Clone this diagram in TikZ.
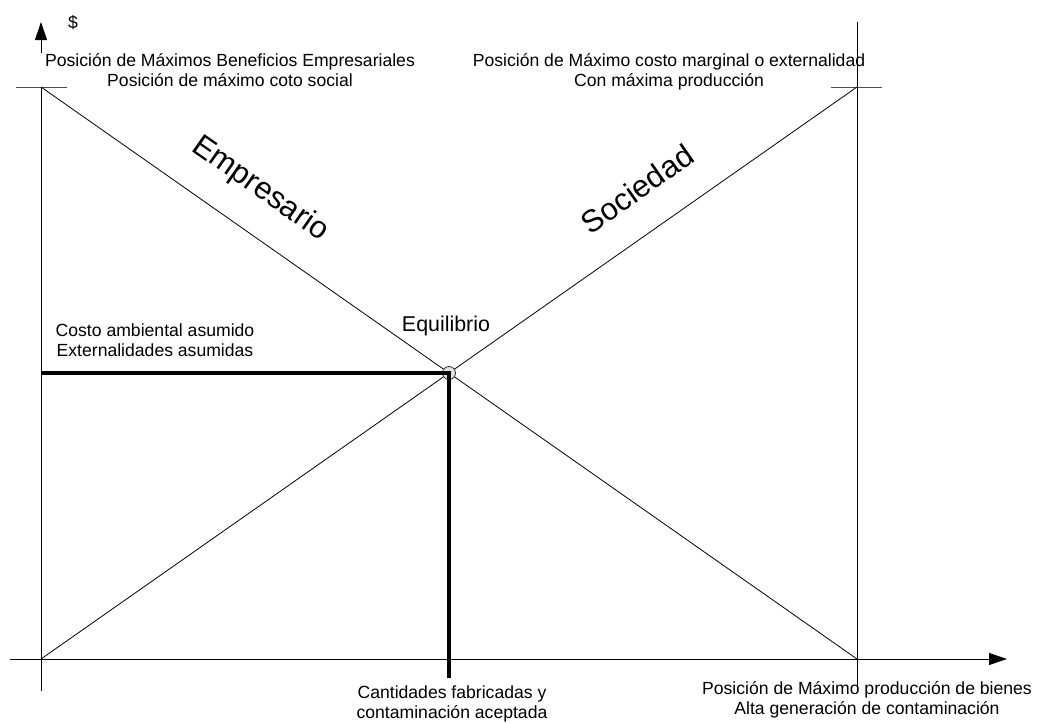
\documentclass[tikz,border=0pt]{standalone}
\usepackage{fontspec}
\setmainfont{Liberation Sans}
\usetikzlibrary{arrows.meta,calc}
\definecolor{eqfill}{RGB}{221,225,236}
\tikzset{
  axis/.style={line width=0.9pt,-{Triangle[length=18pt,width=12pt]}},
  guide/.style={line width=0.9pt},
  diag/.style={line width=0.8pt},
  tickln/.style={line width=0.9pt,black!70},
  heavy/.style={line width=4pt},
  lbl/.style={font=\fontsize{17.6}{20.5}\selectfont,align=center,inner sep=0pt},
  eqlbl/.style={font=\fontsize{21.4}{25}\selectfont,inner sep=0pt},
  big/.style={font=\fontsize{31}{36}\selectfont,inner sep=0pt},
  eqpt/.style={circle,draw=black!80,fill=eqfill,line width=0.8pt,minimum size=13pt,inner sep=0pt}
}
\begin{document}
\begin{tikzpicture}[x=1pt,y=-1pt]
  \useasboundingbox (0,0) rectangle (1037,723);
  \coordinate (o) at (41,659); \coordinate (ytip) at (41,22); \coordinate (ybot) at (41,691);
  \coordinate (xbeg) at (10,659); \coordinate (xtip) at (1007,659);
  \coordinate (rtop) at (857,22); \coordinate (rbot) at (857,691);
  \coordinate (a) at (41,87); \coordinate (b) at (857,87); \coordinate (c) at (857,659);
  \draw[axis] (ybot) -- (ytip); \draw[axis] (xbeg) -- (xtip); \draw[guide] (rbot) -- (rtop);
  \node[lbl,fill=white,inner xsep=6pt] (maxben) at (230,70) {Posición de Máximos Beneficios Empresariales\\Posición de máximo coto social};
  \node[lbl] (maxcost) at (669,72) {Posición de Máximo costo marginal o externalidad\\Con máxima producción};
  \draw[tickln] ([xshift=-25pt]a) -- ([xshift=26pt]a); \draw[tickln] ([xshift=-26pt]b) -- ([xshift=25pt]b);
  \draw[diag] (a) -- (c); \draw[diag] (o) -- (b);
  \node[eqpt] (eq) at ($(a)!0.5!(c)$) {};
  \coordinate (costo) at (o |- eq); \coordinate (cant) at ($(eq |- o)+(0,19)$);
  \draw[heavy] (costo) -- (eq.center) -- (cant);
  \node[lbl] (dolar) at (73,23) {\$};
  \node[big,rotate=-35] (emp) at (260,189) {Empresario};
  \node[big,rotate=35] (soc) at (637,189) {Sociedad};
  \node[eqlbl] (equi) at (446,326) {Equilibrio};
  \node[lbl] (costamb) at (155,340) {Costo ambiental asumido\\Externalidades asumidas};
  \node[lbl] (cantfab) at (452,704) {Cantidades fabricadas y\\contaminación aceptada};
  \node[lbl] (maxprod) at (867,700) {Posición de Máximo producción de bienes\\Alta generación de contaminación};
\end{tikzpicture}
\end{document}
